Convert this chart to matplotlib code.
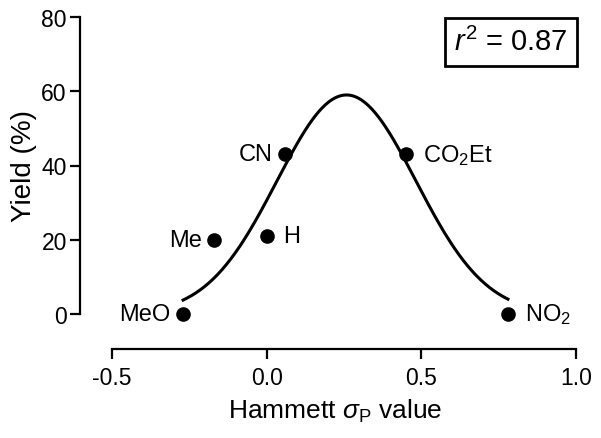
import numpy as np
import matplotlib
matplotlib.use("Agg")
import matplotlib.pyplot as plt

plt.rcParams["font.family"] = ["Liberation Sans", "DejaVu Sans"]
plt.rcParams["mathtext.fontset"] = "custom"
plt.rcParams["mathtext.rm"] = "Liberation Sans"
plt.rcParams["mathtext.it"] = "Liberation Sans:italic"

# data
substituents = ["MeO", "Me", "H", "CN", "CO$_2$Et", "NO$_2$"]
sigma_p = [-0.27, -0.17, 0.00, 0.06, 0.45, 0.78]
yield_pct = [0, 20, 21, 43, 43, 0]
label_side = ["left", "left", "right", "left", "right", "right"]

# gaussian fit
fit_amp = 59.0
fit_center = 0.258
fit_width = 0.225
r_squared = 0.87

fig = plt.figure(figsize=(6.01, 4.39), dpi=100)
ax = fig.add_axes([80 / 601, 1 - 350 / 439, 510 / 601, 338 / 439])

xs = np.linspace(min(sigma_p), max(sigma_p), 300)
ax.plot(xs, fit_amp * np.exp(-(xs - fit_center) ** 2 / (2 * fit_width ** 2)),
        color="black", lw=2.2, zorder=2)
ax.plot(sigma_p, yield_pct, "o", color="black", ms=9.5, zorder=3)

for name, x, y, side in zip(substituents, sigma_p, yield_pct, label_side):
    if side == "left":
        ax.annotate(name, (x, y), xytext=(-9, 0), textcoords="offset points",
                    ha="right", va="center", fontsize=17)
    else:
        ax.annotate(name, (x, y), xytext=(12, 0), textcoords="offset points",
                    ha="left", va="center", fontsize=17)

# r^2 box, right edge ~572 px, top ~22 px
ax.text((568 - 80) / 510, (350 - 28) / 338, "$r^{2}$ = %.2f" % r_squared,
        transform=ax.transAxes, ha="right", va="top", fontsize=21,
        bbox=dict(boxstyle="square,pad=0.32", fc="white", ec="black", lw=2))

ax.set_xlim(-0.5 - 32 / 310, 1.0 + 14 / 310)
ax.set_ylim(-35 / 3.7125, 80 + 6 / 3.7125)
ax.set_xticks([-0.5, 0.0, 0.5, 1.0])
ax.set_xticklabels(["-0.5", "0.0", "0.5", "1.0"])
ax.set_yticks([0, 20, 40, 60, 80])
ax.spines["top"].set_visible(False)
ax.spines["right"].set_visible(False)
ax.spines["left"].set_bounds(0, 80)
ax.spines["bottom"].set_bounds(-0.5, 1.0)
for s in ["left", "bottom"]:
    ax.spines[s].set_linewidth(1.6)
ax.tick_params(direction="out", length=7, width=1.6, labelsize=16.5)
ax.tick_params(axis="x", pad=5)
ax.tick_params(axis="y", pad=2.5)

ax.set_xlabel(r"Hammett $\sigma_{\rm P}$ value", fontsize=19, labelpad=6)
ax.set_ylabel("Yield (%)", fontsize=20, labelpad=3)
ax.yaxis.label.set_y((350 - 166) / 338)

fig.savefig("out.png", dpi=100)
